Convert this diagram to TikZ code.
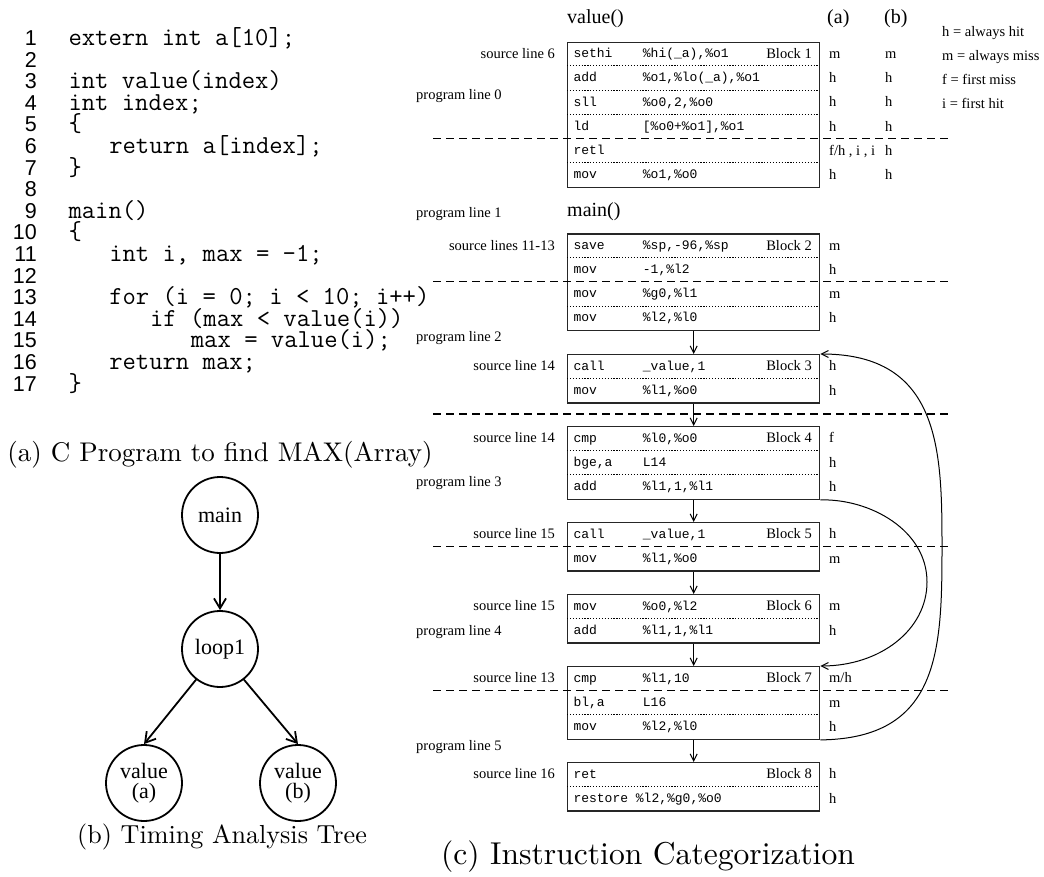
\documentclass[tikz,border=0pt]{standalone}
\usepackage{fontspec}
\newfontfamily\timesf{Liberation Serif}
\newfontfamily\courf{Liberation Mono}
\newfontfamily\helvf{Liberation Sans}
\usetikzlibrary{arrows.meta}
\tikzset{
  codetxt/.style={font=\fontsize{25.9}{26}\selectfont\ttfamily\frenchspacing, anchor=base west, inner sep=0pt},
  lnum/.style={font=\fontsize{21.5}{22}\selectfont\helvf, anchor=base east, inner sep=0pt},
  tlab/.style={font=\fontsize{14.5}{16}\selectfont\timesf, inner sep=0pt, text height=9.5pt, text depth=0pt},
  ctxt/.style={font=\fontsize{13}{15}\selectfont\courf, inner sep=0pt, text height=8pt, text depth=0pt, anchor=west},
  ttl/.style={font=\fontsize{20}{22}\selectfont\timesf, inner sep=0pt, anchor=west},
  blk/.style={draw=black!85, line width=1.3pt, minimum width=252pt, inner sep=0pt, anchor=north west},
  sepl/.style={line width=0.9pt, dash pattern=on 1.2pt off 1.7pt},
  cachel/.style={line width=1.2pt, dash pattern=on 8pt off 5pt},
  barrow/.style={line width=1pt, -{Straight Barb[length=7pt,width=7pt]}},
  tnode/.style={circle, draw, line width=1.8pt, minimum size=76pt, inner sep=0pt, font=\fontsize{22}{20}\selectfont\timesf},
  tarrow/.style={line width=1.8pt, -{Straight Barb[length=10pt,width=12pt,line width=1.8pt]}},
  capt/.style={inner sep=0pt, font=\fontsize{10}{12}\selectfont}
}
\newcommand\cl[3]{%
  \node[lnum] (n#1) at (37,{38+(#1-1)*21.6+7.5}) {#1};
  \node[codetxt] (c#1) at ({68.3+#2*13.6},{38+(#1-1)*21.6+7.5}) {#3};}
\newcommand\cn[1]{%
  \node[lnum] (n#1) at (37,{38+(#1-1)*21.6+7.5}) {#1};}
\newcommand\irow[6]{% name, y, mnemonic, operand, a, b
  \node[ctxt] (#1m) at (573.3,#2) {#3};
  \node[ctxt] (#1o) at (642.7,#2) {#4};
  \node[tlab,anchor=west] (#1a) at (829,#2) {#5};
  \node[tlab,anchor=west] (#1b) at (885,#2) {#6};}
\begin{document}
\begin{tikzpicture}[x=1pt,y=-1pt]
\useasboundingbox (0,0) rectangle (1044,877);
% ---------- code ----------
\cl{1}{0}{extern int a[10];}
\cn{2}
\cl{3}{0}{int value(index)}
\cl{4}{0}{int index;}
\cl{5}{0}{\{}
\cl{6}{3}{return a[index];}
\cl{7}{0}{\}}
\cn{8}
\cl{9}{0}{main()}
\cl{10}{0}{\{}
\cl{11}{3}{int i, max = -1;}
\cn{12}
\cl{13}{3}{for (i = 0; i < 10; i++)}
\cl{14}{6}{if (max < value(i))}
\cl{15}{9}{max = value(i);}
\cl{16}{3}{return max;}
\cl{17}{0}{\}}
\node[capt] (capa) at (220,455) {\scalebox{2.7}{(a) C Program to find MAX(Array)}};
% ---------- tree ----------
\node[tnode] (main) at (220,515) {main};
\node[tnode] (loop) at (220,649) {loop1};
\node[tnode, align=center] (va) at (144,783) {value\\(a)};
\node[tnode, align=center] (vb) at (298,783) {value\\(b)};
\draw[tarrow] (main) -- (loop);
\draw[tarrow] (loop.-128) -- (va.north);
\draw[tarrow] (loop.-52) -- (vb.north);
\node[capt] (capb) at (222,837) {\scalebox{2.61}{(b) Timing Analysis Tree}};
% ---------- headers and legend ----------
\node[ttl] (tval) at (567,19) {value()};
\node[ttl] (tmain) at (567,212) {main()};
\node[ttl] (hda) at (827,19) {(a)};
\node[ttl] (hdb) at (884,19) {(b)};
\node[tlab,anchor=west] (lg1) at (942,32) {h = always hit};
\node[tlab,anchor=west] (lg2) at (942,56) {m = always miss};
\node[tlab,anchor=west] (lg3) at (942,80) {f = first miss};
\node[tlab,anchor=west] (lg4) at (942,104) {i = first hit};
% program lines
\node[tlab,anchor=west] (p0) at (416,95) {program line 0};
\node[tlab,anchor=west] (p1) at (416,213) {program line 1};
\node[tlab,anchor=west] (p2) at (416,337) {program line 2};
\node[tlab,anchor=west] (p3) at (416,482) {program line 3};
\node[tlab,anchor=west] (p4) at (416,631) {program line 4};
\node[tlab,anchor=west] (p5) at (416,746) {program line 5};
% ---------- blocks ----------
\node[blk, minimum height=145.2pt] (b1) at (567,41.7) {};
\node[blk, minimum height=96.8pt] (b2) at (567,233.3) {};
\node[blk, minimum height=48.4pt] (b3) at (567,354) {};
\node[blk, minimum height=72.6pt] (b4) at (567,426) {};
\node[blk, minimum height=48.4pt] (b5) at (567,522) {};
\node[blk, minimum height=48.4pt] (b6) at (567,594) {};
\node[blk, minimum height=72.6pt] (b7) at (567,666) {};
\node[blk, minimum height=48.4pt] (b8) at (567,762) {};
% dotted row separators
\foreach \yy in {65.9,90.1,114.3,162.7, 257.5,306.0, 378.2, 450.2,474.4, 618.2, 714.4, 786.2}
  \draw[sepl] (567,\yy) -- (819,\yy);
% cache line boundaries
\foreach \yy in {138.5,281.7,414,546.2,690.2}
  \draw[cachel] (433,\yy) -- (950,\yy);
% source labels
\node[tlab,anchor=east] (s1) at (555,53.8) {source line 6};
\node[tlab,anchor=east] (s2) at (555,245.4) {source lines 11-13};
\node[tlab,anchor=east] (s3) at (555,366.1) {source line 14};
\node[tlab,anchor=east] (s4) at (555,438.1) {source line 14};
\node[tlab,anchor=east] (s5) at (555,534.1) {source line 15};
\node[tlab,anchor=east] (s6) at (555,606.1) {source line 15};
\node[tlab,anchor=east] (s7) at (555,678.1) {source line 13};
\node[tlab,anchor=east] (s8) at (555,774.1) {source line 16};
% block labels
\node[tlab,anchor=east] (k1) at (812,53.8) {Block 1};
\node[tlab,anchor=east] (k2) at (812,245.4) {Block 2};
\node[tlab,anchor=east] (k3) at (812,366.1) {Block 3};
\node[tlab,anchor=east] (k4) at (812,438.1) {Block 4};
\node[tlab,anchor=east] (k5) at (812,534.1) {Block 5};
\node[tlab,anchor=east] (k6) at (812,606.1) {Block 6};
\node[tlab,anchor=east] (k7) at (812,678.1) {Block 7};
\node[tlab,anchor=east] (k8) at (812,774.1) {Block 8};
% instruction rows
\irow{r11}{53.8}{sethi}{\%hi(\_a),\%o1}{m}{m}
\irow{r12}{78.0}{add}{\%o1,\%lo(\_a),\%o1}{h}{h}
\irow{r13}{102.2}{sll}{\%o0,2,\%o0}{h}{h}
\irow{r14}{126.4}{ld}{[\%o0+\%o1],\%o1}{h}{h}
\irow{r15}{150.6}{retl}{}{f/h , i , i}{h}
\irow{r16}{174.8}{mov}{\%o1,\%o0}{h}{h}
\irow{r21}{245.4}{save}{\%sp,-96,\%sp}{m}{}
\irow{r22}{269.6}{mov}{-1,\%l2}{h}{}
\irow{r23}{293.8}{mov}{\%g0,\%l1}{m}{}
\irow{r24}{318.0}{mov}{\%l2,\%l0}{h}{}
\irow{r31}{366.1}{call}{\_value,1}{h}{}
\irow{r32}{390.3}{mov}{\%l1,\%o0}{h}{}
\irow{r41}{438.1}{cmp}{\%l0,\%o0}{f}{}
\irow{r42}{462.3}{bge,a}{L14}{h}{}
\irow{r43}{486.5}{add}{\%l1,1,\%l1}{h}{}
\irow{r51}{534.1}{call}{\_value,1}{h}{}
\irow{r52}{558.3}{mov}{\%l1,\%o0}{m}{}
\irow{r61}{606.1}{mov}{\%o0,\%l2}{m}{}
\irow{r62}{630.3}{add}{\%l1,1,\%l1}{h}{}
\irow{r71}{678.1}{cmp}{\%l1,10}{m/h}{}
\irow{r72}{702.3}{bl,a}{L16}{m}{}
\irow{r73}{726.5}{mov}{\%l2,\%l0}{h}{}
\node[ctxt] (r81m) at (573.3,774.1) {ret};
\node[tlab,anchor=west] (r81a) at (829,774.1) {h};
\node[ctxt] (r82m) at (573.3,798.3) {restore \%l2,\%g0,\%o0};
\node[tlab,anchor=west] (r82a) at (829,798.3) {h};
% ---------- flow arrows ----------
\draw[barrow] (b2.south) -- (b3.north);
\draw[barrow] (b3.south) -- (b4.north);
\draw[barrow] (b4.south) -- (b5.north);
\draw[barrow] (b5.south) -- (b6.north);
\draw[barrow] (b6.south) -- (b7.north);
\draw[barrow] (b7.south) -- (b8.north);
\draw[barrow] (b7.south east) .. controls (940,738.6) and (942,650) .. (942,546) .. controls (942,450) and (940,354) .. (b3.north east);
\draw[barrow] (b4.south east) .. controls (870,498.6) and (927,530) .. (927,582) .. controls (927,630) and (880,666) .. (b7.north east);
\node[capt] (capc) at (648,857) {\scalebox{3.16}{(c) Instruction Categorization}};
\end{tikzpicture}
\end{document}
